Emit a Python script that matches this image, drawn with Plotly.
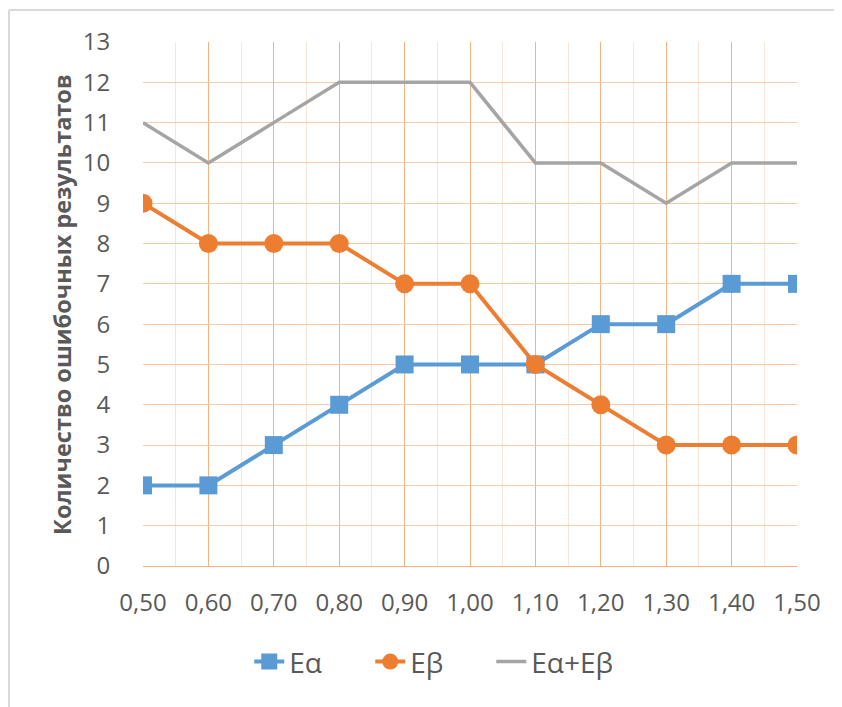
import plotly.graph_objects as go

x_vals = [0.50, 0.60, 0.70, 0.80, 0.90, 1.00, 1.10, 1.20, 1.30, 1.40, 1.50]
e_alpha = [2, 2, 3, 4, 5, 5, 5, 6, 6, 7, 7]
e_beta = [9, 8, 8, 8, 7, 7, 5, 4, 3, 3, 3]
e_sum = [11, 10, 11, 12, 12, 12, 10, 10, 9, 10, 10]
y_title = "Количество ошибочных результатов"

FONT = "Open Sans"
fig = go.Figure()
fig.add_trace(go.Scatter(x=x_vals, y=e_alpha, name="Eα", mode="lines+markers",
                         line=dict(color="#5B9BD5", width=4),
                         marker=dict(symbol="square", size=18, color="#5B9BD5")))
fig.add_trace(go.Scatter(x=x_vals, y=e_beta, name="Eβ", mode="lines+markers",
                         line=dict(color="#ED7D31", width=4),
                         marker=dict(symbol="circle", size=19, color="#ED7D31")))
fig.add_trace(go.Scatter(x=x_vals, y=e_sum, name="Eα+Eβ", mode="lines",
                         line=dict(color="#A5A5A5", width=3.5)))

fig.update_layout(
    width=834, height=699,
    margin=dict(l=135, r=45, t=34, b=141),
    paper_bgcolor="white", plot_bgcolor="white",
    separators=", ",
    font=dict(family=FONT, color="#595959", size=24),
    showlegend=True,
    legend=dict(orientation="h", x=0.44, xanchor="center", y=-0.183, yanchor="middle",
                font=dict(size=28, color="#595959"), traceorder="normal",
                entrywidth=76, entrywidthmode="pixels"),
    xaxis=dict(range=[0.5, 1.5], tickvals=x_vals, tickformat=".2f",
               showgrid=True, gridcolor="#F4B183", gridwidth=1,
               minor=dict(dtick=0.05, tick0=0.5, showgrid=True, gridcolor="#FBE5D6", gridwidth=1),
               zeroline=False, showline=True, linecolor="#F4B183",
               ticks="outside", ticklen=15, tickcolor="rgba(0,0,0,0)",
               tickfont=dict(size=24, color="#595959")),
    yaxis=dict(range=[0, 13], dtick=1, showgrid=True, gridcolor="#F8CBAD", gridwidth=1,
               zeroline=False, showline=False,
               ticks="outside", ticklen=27, tickcolor="rgba(0,0,0,0)",
               tickfont=dict(size=24, color="#595959")),
    annotations=[dict(text="<b>" + y_title + "</b>", textangle=-90, xref="paper", yref="paper",
                      x=-0.124, y=0.5, xanchor="center", yanchor="middle", showarrow=False,
                      font=dict(size=23.5, color="#595959", family=FONT))],
    shapes=[
        dict(type="line", xref="paper", yref="paper", x0=-0.205, x1=-0.205, y0=1.061, y1=-0.3,
             line=dict(color="#D9D9D9", width=2)),
        dict(type="line", xref="paper", yref="paper", x0=-0.205, x1=1.1, y0=1.061, y1=1.061,
             line=dict(color="#D9D9D9", width=2)),
    ],
)
fig.write_html("out.html")
